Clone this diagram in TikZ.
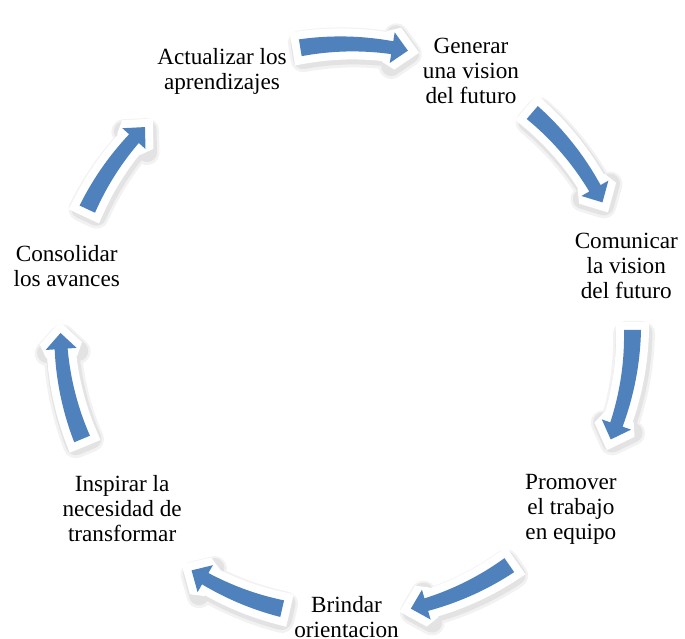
\documentclass[tikz,border=0pt]{standalone}
\usepackage{fontspec}
\setmainfont{Liberation Serif}
\definecolor{arrblue}{HTML}{4F81BD}
\newcommand{\Rr}{286}
\newcommand{\wa}{8.5}
\newcommand{\wb}{6.5}
\newcommand{\hw}{15.5}
\newcommand{\arrowpath}[2]{%
  plot[domain=#1:\hb,samples=25,variable=\t] (\t:{\Rr+\wa-(\wa-\wb)*(#1-\t)/(#1-\hb)})
  -- (\hb:{\Rr+\hw}) -- (#2:{\Rr}) -- (\hb:{\Rr-\hw})
  -- plot[domain=\hb:#1,samples=25,variable=\t] (\t:{\Rr-\wa+(\wa-\wb)*(#1-\t)/(#1-\hb)}) -- cycle}
\newcommand{\cycarrow}[2]{%
  \pgfmathsetmacro{\hb}{#2+3.2}%
  \begin{scope}[shift={(346.5,309)}]
    \path[draw=black!5,fill=black!5,line width=25pt,line join=round,shift={(1.5,-3.5)}] \arrowpath{#1}{#2};
    \path[draw=black!11,fill=black!11,line width=20pt,line join=round,shift={(1.5,-3)}] \arrowpath{#1}{#2};
    \path[draw=white,fill=white,line width=16pt,line join=miter,miter limit=2.5] \arrowpath{#1}{#2};
    \fill[arrblue] \arrowpath{#1}{#2};
  \end{scope}}
\tikzset{lbl/.style={align=center,inner sep=0pt,font=\fontsize{23.2}{25}\selectfont}}
\begin{document}
\begin{tikzpicture}[x=1pt,y=1pt]
\useasboundingbox (0,0) rectangle (685,639);
\coordinate (c) at (346.5,309);
% arrows
\cycarrow{99.3}{77.6}
\cycarrow{49.5}{26.5}
\cycarrow{0}{-22.5}
\cycarrow{-55.3}{-77}
\cycarrow{-103}{-122.8}
\cycarrow{-157.6}{-179.4}
\cycarrow{155}{134.8}
% labels
\node[lbl] (gen) at ([shift={(c)}]64.29:287) {Generar\\una vision\\del futuro};
\node[lbl] (com) at ([shift={(c)}]12.86:287) {Comunicar\\la vision\\del futuro};
\node[lbl] (pro) at ([shift={(c)}]-38.57:287) {Promover\\el trabajo\\en equipo};
\node[lbl] (bri) at ([shift={(c)}]-90:287) {Brindar\\orientacion};
\node[lbl] (ins) at ([shift={(c)}]-141.43:287) {Inspirar la\\necesidad de\\transformar};
\node[lbl] (con) at ([shift={(c)}]167.14:287) {Consolidar\\los avances};
\node[lbl] (act) at ([shift={(c)}]115.71:287) {Actualizar los\\aprendizajes};
\end{tikzpicture}
\end{document}
